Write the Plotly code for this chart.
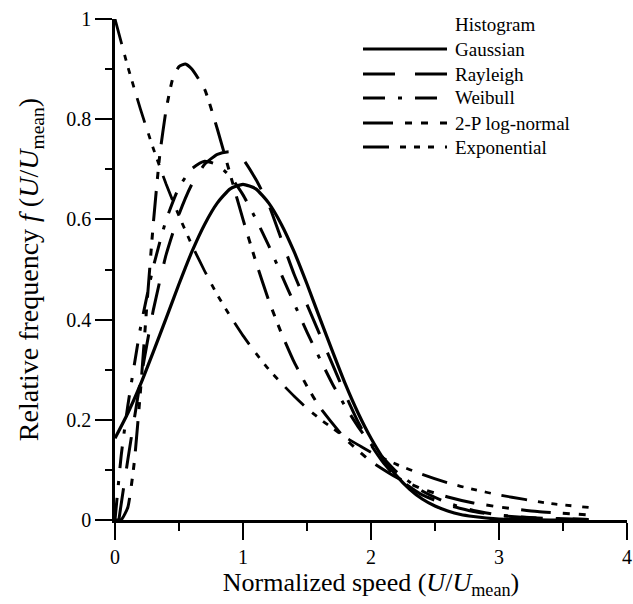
import plotly.graph_objects as go

# ---------------- data ----------------
x_gauss = [0.0, 0.1, 0.2, 0.3, 0.4, 0.5, 0.6, 0.7, 0.8, 0.9, 1.0, 1.1, 1.2, 1.3, 1.4, 1.5,
           1.6, 1.7, 1.8, 1.9, 2.0, 2.1, 2.2, 2.3, 2.4, 2.5, 2.6, 2.7, 2.8, 2.9, 3.0, 3.2, 3.4, 3.7]
y_gauss = [0.163, 0.213, 0.271, 0.336, 0.403, 0.471, 0.535, 0.590, 0.633, 0.661, 0.670, 0.661,
           0.633, 0.590, 0.535, 0.471, 0.403, 0.336, 0.271, 0.213, 0.163, 0.121, 0.088, 0.062,
           0.042, 0.028, 0.018, 0.011, 0.007, 0.004, 0.002, 0.001, 0.0, 0.0]

x_rayleigh = [0.03, 0.1, 0.2, 0.3, 0.4, 0.5, 0.6, 0.7, 0.8, 0.9, 1.0, 1.1, 1.2, 1.3, 1.4, 1.5,
              1.6, 1.7, 1.8, 1.9, 2.0, 2.1, 2.2, 2.4, 2.6, 2.8, 3.0, 3.3, 3.7]
y_rayleigh = [0.0, 0.12, 0.28, 0.42, 0.53, 0.61, 0.67, 0.71, 0.73, 0.735, 0.72, 0.68, 0.63,
              0.56, 0.49, 0.43, 0.37, 0.31, 0.25, 0.195, 0.15, 0.113, 0.085, 0.05, 0.03, 0.017,
              0.009, 0.004, 0.001]

x_weibull = [0.0, 0.05, 0.1, 0.2, 0.3, 0.4, 0.5, 0.6, 0.7, 0.8, 0.9, 1.0, 1.1, 1.2, 1.3, 1.4,
             1.5, 1.6, 1.7, 1.8, 1.9, 2.0, 2.2, 2.4, 2.6, 2.8, 3.0, 3.3, 3.7]
y_weibull = [0.0, 0.132, 0.228, 0.385, 0.506, 0.599, 0.664, 0.701, 0.716, 0.709, 0.686, 0.649,
             0.601, 0.548, 0.490, 0.432, 0.375, 0.322, 0.271, 0.226, 0.186, 0.151, 0.096, 0.058,
             0.034, 0.019, 0.010, 0.004, 0.001]

x_lognormal = [0.0, 0.05, 0.1, 0.15, 0.2, 0.25, 0.3, 0.35, 0.4, 0.45, 0.5, 0.55, 0.6, 0.7, 0.8,
               0.9, 1.0, 1.1, 1.2, 1.3, 1.4, 1.5, 1.6, 1.8, 2.0, 2.2, 2.4, 2.6, 2.8, 3.0, 3.3, 3.7]
y_lognormal = [0.0, 0.001, 0.025, 0.114, 0.261, 0.432, 0.594, 0.729, 0.820, 0.88, 0.905, 0.91,
               0.90, 0.86, 0.78, 0.69, 0.60, 0.516, 0.439, 0.373, 0.315, 0.267, 0.225, 0.162,
               0.117, 0.085, 0.062, 0.046, 0.034, 0.026, 0.017, 0.010]

x_expo = [0.0, 0.1, 0.2, 0.3, 0.4, 0.5, 0.6, 0.7, 0.8, 0.9, 1.0, 1.1, 1.2, 1.3, 1.4, 1.5, 1.6,
          1.7, 1.8, 1.9, 2.0, 2.2, 2.4, 2.6, 2.8, 3.0, 3.2, 3.4, 3.7]
y_expo = [1.0, 0.905, 0.819, 0.741, 0.670, 0.607, 0.549, 0.497, 0.449, 0.407, 0.368, 0.333,
          0.301, 0.273, 0.247, 0.223, 0.202, 0.183, 0.165, 0.150, 0.135, 0.111, 0.091, 0.074,
          0.061, 0.050, 0.041, 0.033, 0.025]

series_names = ["Gaussian", "Rayleigh", "Weibull", "2-P log-normal", "Exponential"]
x_ticks = [0, 1, 2, 3, 4]
x_tick_labels = ["0", "1", "2", "3", "4"]
y_ticks = [0, 0.2, 0.4, 0.6, 0.8, 1.0]
y_tick_labels = ["0", "0.2", "0.4", "0.6", "0.8", "1"]

# ---------------- styles ----------------
FONT = "Liberation Serif"
dashes = {
    "Gaussian": "solid",
    "Rayleigh": "32px,20px",
    "Weibull": "22px,13px,4px,13px",
    "2-P log-normal": "30px,12px,7px,9px,7px,12px",
    "Exponential": "26px,11px,6px,8px,6px,8px,6px,11px",
}
widths = {"Gaussian": 3.2, "Rayleigh": 3, "Weibull": 3, "2-P log-normal": 3, "Exponential": 2.8}

data = {
    "Gaussian": (x_gauss, y_gauss),
    "Rayleigh": (x_rayleigh, y_rayleigh),
    "Weibull": (x_weibull, y_weibull),
    "2-P log-normal": (x_lognormal, y_lognormal),
    "Exponential": (x_expo, y_expo),
}

fig = go.Figure()
for name in series_names:
    xs, ys = data[name]
    fig.add_trace(go.Scatter(x=xs, y=ys, mode="lines", name=name, showlegend=False,
                             line=dict(color="black", width=widths[name], dash=dashes[name],
                                       shape="spline", smoothing=0.5)))

W, H = 633, 604
L, R, T, B = 115, 6, 19, 84
pw, ph = W - L - R, H - T - B


def px2paper(px, py):
    return (px - L) / pw, (H - B - py) / ph


# custom legend (shapes + text)
legend_rows = ["Histogram"] + series_names
row_y = [25, 49, 74, 98, 123, 147]
shapes = []
annotations = []
for label, py in zip(legend_rows, row_y):
    tx, ty = px2paper(453, py)
    annotations.append(dict(x=tx, y=ty, xref="paper", yref="paper", text=label,
                            showarrow=False, xanchor="left", yanchor="middle",
                            font=dict(family=FONT, size=19, color="black")))
    if label in dashes:
        x0, y0 = px2paper(363, py)
        x1, _ = px2paper(447, py)
        shapes.append(dict(type="line", xref="paper", yref="paper", x0=x0, x1=x1, y0=y0, y1=y0,
                           line=dict(color="black", width=widths[label], dash=dashes[label])))

fig.update_layout(
    width=W, height=H,
    margin=dict(l=L, r=R, t=T, b=B, autoexpand=False),
    paper_bgcolor="white", plot_bgcolor="white",
    font=dict(family=FONT, color="black", size=20),
    showlegend=False,
    shapes=shapes,
    annotations=annotations,
    xaxis=dict(range=[0, 4], tickvals=x_ticks, ticktext=x_tick_labels, automargin=False,
               showgrid=False, zeroline=False, showline=True, linecolor="black", linewidth=2.5,
               ticks="outside", ticklen=17, tickwidth=2, tickcolor="black",
               minor=dict(dtick=0.5, ticks="outside", ticklen=8, tickwidth=2, tickcolor="black"),
               tickfont=dict(family=FONT, size=20),
               title=dict(text="Normalized speed (<i>U</i>/<i>U</i><sub>mean</sub>)",
                          font=dict(family=FONT, size=26), standoff=2)),
    yaxis=dict(range=[0, 1], tickvals=y_ticks, ticktext=y_tick_labels, automargin=False,
               showgrid=False, zeroline=False, showline=True, linecolor="black", linewidth=2.5,
               ticks="outside", ticklen=17, tickwidth=2, tickcolor="black",
               minor=dict(dtick=0.1, ticks="outside", ticklen=7, tickwidth=2, tickcolor="black"),
               tickfont=dict(family=FONT, size=20),
               title=dict(text="Relative frequency <i>f</i> (<i>U</i>/<i>U</i><sub>mean</sub>)",
                          font=dict(family=FONT, size=28), standoff=20)),
)

fig.write_html("out.html", config={"displayModeBar": False},
               post_script="document.body.style.margin='0';")
